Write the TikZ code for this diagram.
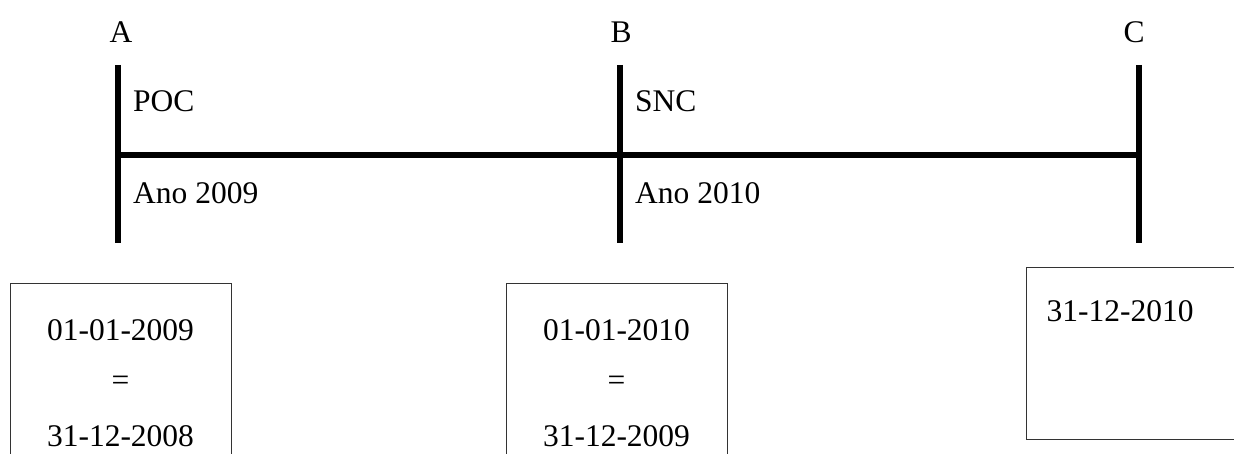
\documentclass[tikz,border=0pt]{standalone}
\usepackage{fontspec}
\setmainfont{Liberation Serif}
\begin{document}
\begin{tikzpicture}[x=1pt,y=-1pt,
  every node/.style={font=\fontsize{31.5}{38}\selectfont, inner sep=0pt},
  bar/.style={line width=5.5pt},
  datebox/.style={draw=black!80, line width=1.4pt, minimum width=221pt, minimum height=200pt, anchor=north west},
  lbl/.style={anchor=west}]
\clip (0,0) rectangle (1234,454);
\useasboundingbox (0,0) rectangle (1234,454);
% timeline coordinates
\coordinate (Atop) at (118,65);
\coordinate (Abot) at (118,243);
\coordinate (Btop) at (620,65);
\coordinate (Bbot) at (620,243);
\coordinate (Ctop) at (1139,65);
\coordinate (Cbot) at (1139,243);
\coordinate (Amid) at (118,155);
\coordinate (Cmid) at (1141.75,155);
\draw[bar] (Atop) -- (Abot);
\draw[bar] (Btop) -- (Bbot);
\draw[bar] (Ctop) -- (Cbot);
\draw[bar] (Amid) -- (Cmid);
% labels
\node (A) at (121,32) {A};
\node (B) at (621,32) {B};
\node (C) at (1134,32) {C};
\node[lbl] (poc) at (133,101) {POC};
\node[lbl] (anoA) at (133,193) {Ano 2009};
\node[lbl] (snc) at (635,101) {SNC};
\node[lbl] (anoB) at (635,193) {Ano 2010};
% boxes
\node[datebox] (box1) at (10,283) {};
\node[datebox] (box2) at (506,283) {};
\node[datebox, minimum width=240pt, minimum height=172pt] (box3) at (1026,267) {};
\node (d1a) at (120.5,330) {01-01-2009};
\node (d1e) at (120.5,383) {=};
\node (d1b) at (120.5,436) {31-12-2008};
\node (d2a) at (616.5,330) {01-01-2010};
\node (d2e) at (616.5,383) {=};
\node (d2b) at (616.5,436) {31-12-2009};
\node (d3) at (1120,311) {31-12-2010};
\end{tikzpicture}
\end{document}
